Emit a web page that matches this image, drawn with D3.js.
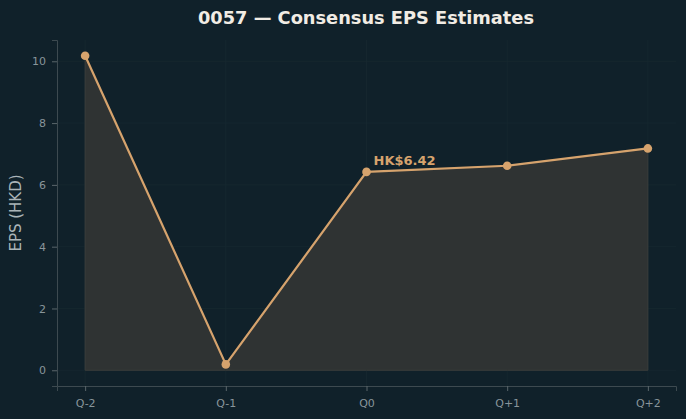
<!DOCTYPE html>
<html>
<head>
<meta charset="utf-8">
<script src="https://cdn.jsdelivr.net/npm/d3@7"></script>
<style>
  body { margin: 0; background: #10212a; }
  svg { display: block; font-family: "DejaVu Sans", sans-serif; }
</style>
</head>
<body>
<div id="chart"></div>
<script>
var quarters = ["Q-2", "Q-1", "Q0", "Q+1", "Q+2"];
var epsValues = [10.18, 0.19, 6.42, 6.62, 7.18];
var yTicks = [0, 2, 4, 6, 8, 10];
var calloutIndex = 2;
var calloutLabel = "HK$6.42";

var width = 686, height = 419;
var margin = {top: 40, right: 10, bottom: 33, left: 57};
var innerW = width - margin.left - margin.right;
var innerH = height - margin.top - margin.bottom;

var svg = d3.select("#chart").append("svg")
  .attr("width", width)
  .attr("height", height);

svg.append("rect").attr("width", width).attr("height", height).attr("fill", "#10212a");

var x = d3.scaleLinear().domain([-0.2, 4.2]).range([0, innerW]);
var yMax = 10.18;
var y = d3.scaleLinear().domain([-yMax * 0.05, yMax * 1.05]).range([innerH, 0]);

var g = svg.append("g").attr("transform", "translate(" + margin.left + "," + margin.top + ")");

// faint grid
g.selectAll(".hgrid").data(yTicks).enter().append("line")
  .attr("x1", 0).attr("x2", innerW)
  .attr("y1", function(d) { return y(d); }).attr("y2", function(d) { return y(d); })
  .attr("stroke", "#172830").attr("stroke-width", 0.8);
g.selectAll(".vgrid").data(quarters).enter().append("line")
  .attr("y1", 0).attr("y2", innerH)
  .attr("x1", function(d, i) { return x(i); }).attr("x2", function(d, i) { return x(i); })
  .attr("stroke", "#172830").attr("stroke-width", 0.8);

// area under line
var area = d3.area()
  .x(function(d, i) { return x(i); })
  .y0(y(0))
  .y1(function(d) { return y(d); });
g.append("path").datum(epsValues)
  .attr("d", area)
  .attr("fill", "#2f3333")
  .attr("stroke", "#3b3d3b")
  .attr("stroke-width", 1);

var line = d3.line()
  .x(function(d, i) { return x(i); })
  .y(function(d) { return y(d); });
g.append("path").datum(epsValues)
  .attr("d", line)
  .attr("fill", "none")
  .attr("stroke", "#d6a36d")
  .attr("stroke-width", 2.2);

g.selectAll(".dot").data(epsValues).enter().append("circle")
  .attr("cx", function(d, i) { return x(i); })
  .attr("cy", function(d) { return y(d); })
  .attr("r", 4.3)
  .attr("fill", "#d6a36d");

g.append("text")
  .attr("x", x(calloutIndex) + 7)
  .attr("y", y(epsValues[calloutIndex]) - 7)
  .attr("fill", "#d6a36d")
  .attr("font-size", 13)
  .attr("font-weight", "bold")
  .text(calloutLabel);

// axes
var yAxis = g.append("g").call(d3.axisLeft(y).tickValues(yTicks).tickSize(5).tickPadding(6).tickFormat(d3.format("d")));
var xAxis = g.append("g").attr("transform", "translate(0," + innerH + ")")
  .call(d3.axisBottom(x).tickValues(d3.range(quarters.length)).tickSize(5).tickPadding(8)
    .tickFormat(function(d) { return quarters[d]; }));

[yAxis, xAxis].forEach(function(a) {
  a.select(".domain").attr("stroke", "#3d4a50");
  a.selectAll(".tick line").attr("stroke", "#5a666b");
  a.selectAll(".tick text").attr("fill", "#88959a").attr("font-size", 11)
    .attr("font-family", "DejaVu Sans, sans-serif");
});

svg.append("text")
  .attr("transform", "translate(21," + (margin.top + innerH / 2) + ") rotate(-90)")
  .attr("text-anchor", "middle")
  .attr("fill", "#aab4b8")
  .attr("font-size", 15)
  .text("EPS (HKD)");

svg.append("text")
  .attr("x", 366).attr("y", 24)
  .attr("text-anchor", "middle")
  .attr("fill", "#f1ece4")
  .attr("font-size", 17.8)
  .attr("font-weight", "bold")
  .text("0057 \u2014 Consensus EPS Estimates");
</script>
</body>
</html>
